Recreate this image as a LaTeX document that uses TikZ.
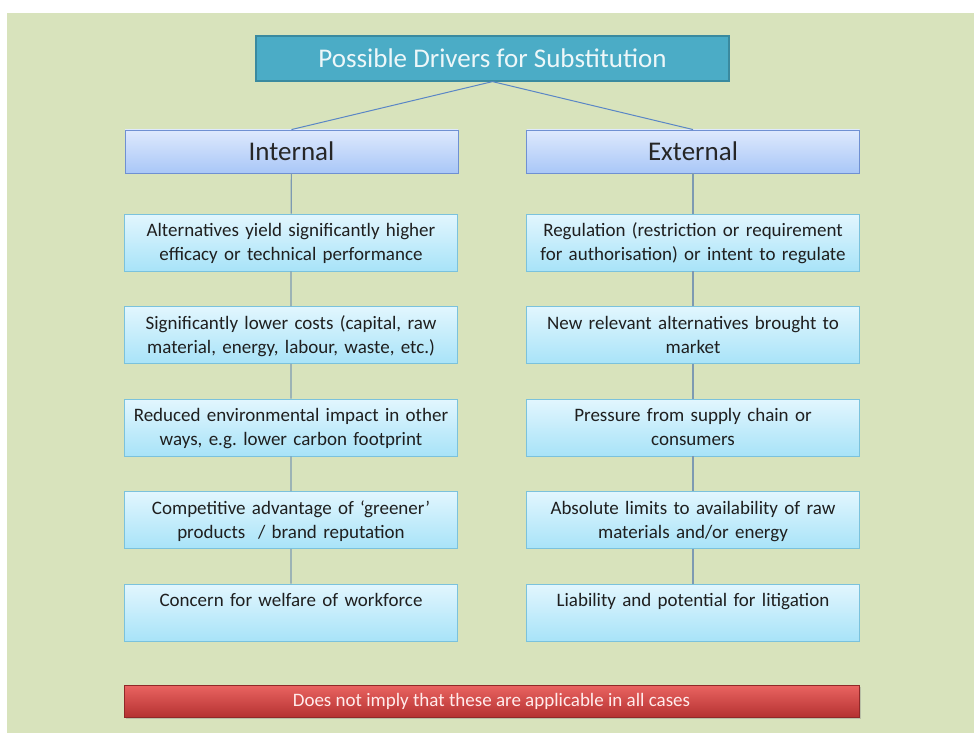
\documentclass[tikz,border=0pt]{standalone}
\usepackage{fontspec}
\setmainfont{Carlito}
\usetikzlibrary{positioning}
\usetikzlibrary{shadows}
\definecolor{bggreen}{HTML}{D8E3BC}
\definecolor{titlefill}{HTML}{4BACC6}
\definecolor{titleborder}{HTML}{3A8A9F}
\definecolor{headtop}{HTML}{DEE9FD}
\definecolor{headbottom}{HTML}{A9C7F7}
\definecolor{headborder}{HTML}{6F90D2}
\definecolor{itemtop}{HTML}{E2F6FE}
\definecolor{itembottom}{HTML}{A8E3F8}
\definecolor{itemborder}{HTML}{7BC2DC}
\definecolor{notetop}{HTML}{EA6461}
\definecolor{notebottom}{HTML}{B53232}
\definecolor{linkgray}{HTML}{7D9AB2}
\definecolor{linkblue}{HTML}{5A86C6}

\begin{document}
\begin{tikzpicture}[x=1pt, y=-1pt, node distance=34.6pt,
	titlebox/.style={draw=titleborder, line width=1.2pt, fill=titlefill, text=white!90!titlefill,
		minimum width=473pt, minimum height=45pt, font=\fontsize{27}{30}\selectfont},
	headbox/.style={draw=headborder, line width=0.9pt, top color=headtop, bottom color=headbottom,
		minimum width=333pt, minimum height=43pt, font=\fontsize{27}{30}\selectfont, text=black!85},
	itembox/.style={draw=itemborder, line width=0.9pt, top color=itemtop, bottom color=itembottom,
		text width=319pt, align=center, inner xsep=7pt, inner ysep=4pt, text height=18.5pt, text depth=30.5pt,
		font=\fontsize{19}{24}\selectfont, text=black!88},
	notebox/.style={draw=notebottom!80!black, line width=0.6pt, top color=notetop, bottom color=notebottom,
		minimum width=735pt, minimum height=32pt, font=\fontsize{19}{22}\selectfont, text=red!8!white,
		drop shadow={shadow xshift=1.5pt, shadow yshift=-2pt, opacity=0.35}},
	trunk/.style={draw=linkgray, line width=1.2pt},
	branch/.style={draw=linkblue, line width=1pt}]
	\useasboundingbox (0,0) rectangle (974,733);
	\fill[bggreen] (7,13) rectangle (974,733);

	\node[titlebox] (title) at (492.5,58.5) {Possible Drivers for Substitution};
	\node[headbox] (int) at (291.5,151.5) {Internal};
	\node[headbox] (ext) at (693,151.5) {External};

	% internal drivers
	\node[itembox] (i1) at (291,242.5) {Alternatives yield significantly higher\\efficacy or technical performance};
	\node[itembox, below=of i1] (i2) {Significantly lower costs (capital, raw\\material, energy, labour, waste, etc.)};
	\node[itembox, below=of i2] (i3) {Reduced environmental impact in other\\ways, e.g.\ lower carbon footprint};
	\node[itembox, below=of i3] (i4) {Competitive advantage of `greener'\\products~~/ brand reputation};
	\node[itembox, below=of i4] (i5) {Concern for welfare of workforce};

	% external drivers
	\node[itembox] (e1) at (693,242.5) {Regulation (restriction or requirement\\for authorisation) or intent to regulate};
	\node[itembox, below=of e1] (e2) {New relevant alternatives brought to\\market};
	\node[itembox, below=of e2] (e3) {Pressure from supply chain or\\consumers};
	\node[itembox, below=of e3] (e4) {Absolute limits to availability of raw\\materials and/or energy};
	\node[itembox, below=of e4] (e5) {Liability and potential for litigation};

	\node[notebox] (note) at (491.5,701) {Does not imply that these are applicable in all cases};

	\draw[branch] (title.south) -- (int.north);
	\draw[branch] (title.south) -- (ext.north);
	\draw[trunk] (int) -- (i1) (i1) -- (i2) (i2) -- (i3) (i3) -- (i4) (i4) -- (i5);
	\draw[trunk] (ext) -- (e1) (e1) -- (e2) (e2) -- (e3) (e3) -- (e4) (e4) -- (e5);
\end{tikzpicture}
\end{document}
